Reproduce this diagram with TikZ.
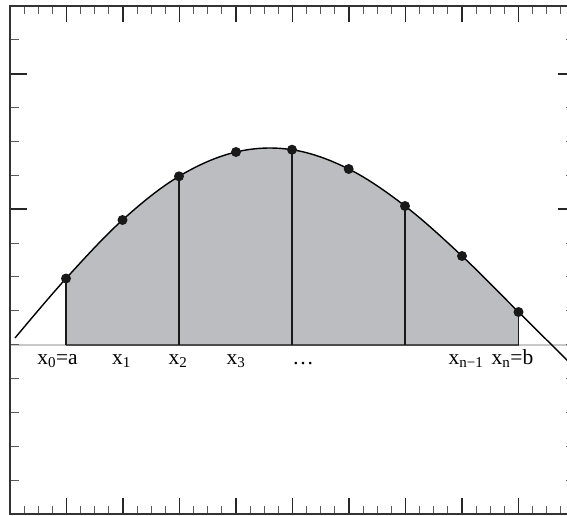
\documentclass[tikz,border=0pt]{standalone}
\usepackage{fontspec}
\setmainfont{Liberation Serif}
\definecolor{areafill}{RGB}{188,189,192}
\definecolor{axisgray}{RGB}{200,200,200}
\begin{document}
\begin{tikzpicture}[x=1pt,y=-1pt,
  framestyle/.style={draw=black!80, line width=1.4pt},
  minortick/.style={draw=black!65, line width=1.1pt},
  majortick/.style={draw=black!85, line width=1.6pt},
  curvestyle/.style={draw=black, line width=1.4pt},
  dotstyle/.style={circle, fill=black!90, inner sep=0pt, minimum size=10pt},
  ordstyle/.style={draw=black!90, line width=1.6pt},
  axisstyle/.style={draw=axisgray, line width=1.2pt},
  labstyle/.style={anchor=base, inner sep=0pt, font=\fontsize{21.5}{24}\selectfont}]
\useasboundingbox (0,0) rectangle (567,516);
\begin{scope}
  \clip (0,0) rectangle (567,516);
  % shaded area
  \begin{scope}
    \clip (66,0) rectangle (518.5,345);
    \fill[areafill] plot[smooth, tension=0.6] coordinates {(15,338) (66,278.5) (122.5,220) (179,176.3) (236,152) (292,149.7) (348.7,169) (405,206) (462,256) (518.5,312) (575,368)} -- (575,345) -- (15,345) -- cycle;
  \end{scope}
  % axis
  \coordinate (axL) at (10,345);
  \coordinate (axR) at (575,345);
  \draw[axisstyle] (axL) -- (axR);
  % sample points
  \coordinate (c0) at (66,278.5);
  \coordinate (c1) at (122.5,220);
  \coordinate (c2) at (179,176.3);
  \coordinate (c3) at (236,152);
  \coordinate (c4) at (292,149.7);
  \coordinate (c5) at (348.7,169);
  \coordinate (c6) at (405,206);
  \coordinate (c7) at (462,256);
  \coordinate (c8) at (518.5,312);
  \coordinate (a0) at (66,345);
  \coordinate (a2) at (179,345);
  \coordinate (a4) at (292,345);
  \coordinate (a6) at (405,345);
  \coordinate (a8) at (518.5,345);
  \draw[draw=black!70, line width=1.2pt] (a0) -- (a8);
  \draw[ordstyle] (c0) -- (a0);
  \draw[ordstyle] (c2) -- (a2);
  \draw[ordstyle] (c4) -- (a4);
  \draw[ordstyle] (c6) -- (a6);
  \draw[ordstyle] (c8) -- (a8);
  % curve
  \draw[curvestyle] plot[smooth, tension=0.6] coordinates {(15,338) (66,278.5) (122.5,220) (179,176.3) (236,152) (292,149.7) (348.7,169) (405,206) (462,256) (518.5,312) (575,368)};
  % dots
  \foreach \i in {0,...,8} { \node[dotstyle] (p\i) at (c\i) {}; }
  % ticks top/bottom
  \foreach \k in {1,2,3,5,6,7,9,10,11,13,14,15,17,18,19,21,22,23,25,26,27,29,30,31,33,34,35,37,38,39} {
    \pgfmathsetmacro\xx{10+14.125*\k}
    \draw[minortick] (\xx,6) -- (\xx,14);
    \draw[minortick] (\xx,514) -- (\xx,506);
  }
  \foreach \k in {4,8,...,36} {
    \pgfmathsetmacro\xx{10+14.125*\k}
    \draw[majortick] (\xx,6) -- (\xx,22);
    \draw[majortick] (\xx,514) -- (\xx,498);
  }
  % ticks left/right
  \foreach \j in {1,3,4,5,7,8,9,10,11,12,13,14} {
    \pgfmathsetmacro\yy{6+33.867*\j}
    \draw[minortick] (10,\yy) -- (18.7,\yy);
    \draw[minortick] (575,\yy) -- (566.3,\yy);
  }
  \foreach \j in {2,6} {
    \pgfmathsetmacro\yy{6+33.867*\j}
    \draw[majortick] (10,\yy) -- (27,\yy);
    \draw[majortick] (575,\yy) -- (558,\yy);
  }
  % frame
  \draw[framestyle] (10,6) -- (575,6) -- (575,514) -- (10,514) -- cycle;
\end{scope}
% labels
\node[labstyle] (l0) at (57.5,364) {x\textsubscript{0}=a};
\node[labstyle] (l1) at (121.5,364) {x\textsubscript{1}};
\node[labstyle] (l2) at (178,364) {x\textsubscript{2}};
\node[labstyle] (l3) at (236,364) {x\textsubscript{3}};
\node[labstyle] (ld) at (303,364) {…};
\node[labstyle] (ln1) at (466,364) {x\textsubscript{n−1}};
\node[labstyle] (ln) at (512.5,364) {x\textsubscript{n}=b};
\end{tikzpicture}
\end{document}
